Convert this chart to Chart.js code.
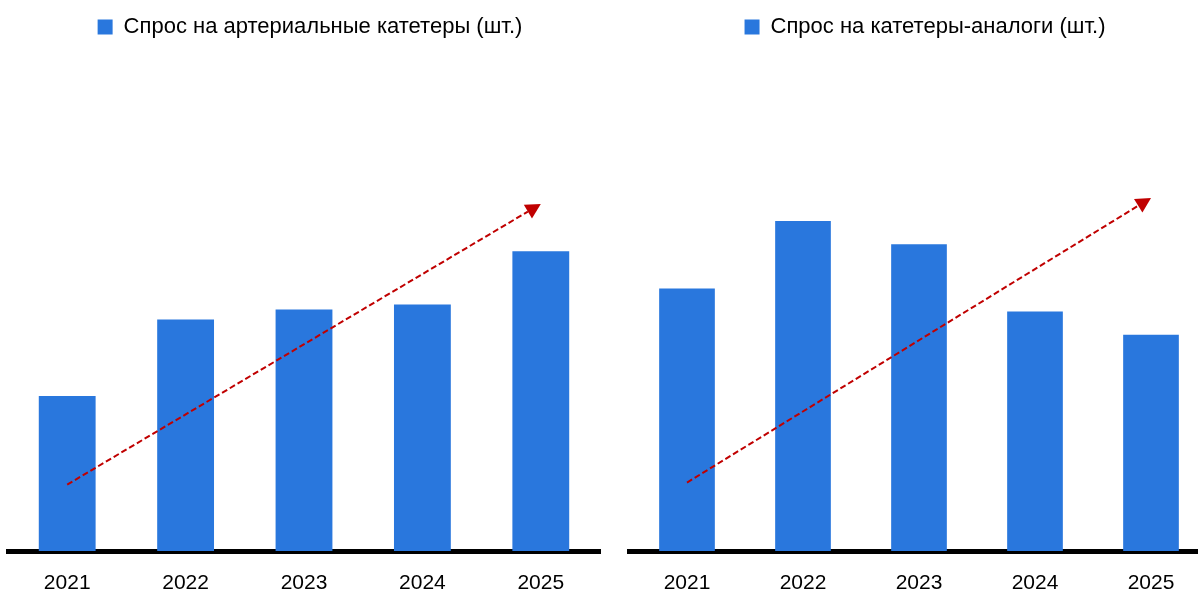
<!DOCTYPE html>
<html>
<head>
<meta charset="utf-8">
<script src="https://cdn.jsdelivr.net/npm/chart.js@4"></script>
<style>
  html, body { margin: 0; padding: 0; background: #fff; overflow: hidden; width: 1198px; height: 593px; }
  .box { position: absolute; top: 0; height: 593px; }
  #left-box { left: 0; width: 604px; }
  #right-box { left: 627px; width: 584px; }
</style>
</head>
<body>
<div class="box" id="left-box"><canvas id="leftChart"></canvas></div>
<div class="box" id="right-box"><canvas id="rightChart"></canvas></div>
<script>
// Categories
const years = ["2021", "2022", "2023", "2024", "2025"];

// Series values (relative units)
const arterialDemand = [154, 230, 240, 245, 298];
const analogDemand = [261, 328, 305, 238, 215];

// Legend labels
const arterialLabel = "Спрос на артериальные катетеры (шт.)";
const analogLabel = "Спрос на катетеры-аналоги (шт.)";

// Trend arrows: [category index, value] for start and tip
const arterialTrend = [[0, 66], [4, 345]];
const analogTrend = [[0, 68], [4, 351]];

const yMax = 500;
const fontFamily = "'Liberation Sans', Arial, sans-serif";
const barColor = "#2977DD";
const arrowColor = "#C00000";

Chart.defaults.animation = false;
Chart.defaults.font.family = fontFamily;
Chart.defaults.color = "#000";

// Plugin to draw the dashed red trend arrow
const trendArrow = {
    id: "trendArrow",
    afterDatasetsDraw(chart, args, opts) {
        const ctx = chart.ctx;
        const xs = chart.scales.x;
        const ys = chart.scales.y;
        const x1 = xs.getPixelForValue(opts.points[0][0]);
        const y1 = ys.getPixelForValue(opts.points[0][1]);
        const x2 = xs.getPixelForValue(opts.points[1][0]);
        const y2 = ys.getPixelForValue(opts.points[1][1]);
        const angle = Math.atan2(y2 - y1, x2 - x1);
        const headLen = 15;
        const headHalf = 8;

        ctx.save();
        ctx.strokeStyle = arrowColor;
        ctx.fillStyle = arrowColor;
        ctx.lineWidth = 2;
        ctx.setLineDash([6, 3]);
        ctx.beginPath();
        ctx.moveTo(x1, y1);
        ctx.lineTo(x2 - Math.cos(angle) * headLen, y2 - Math.sin(angle) * headLen);
        ctx.stroke();

        // Arrow head
        ctx.setLineDash([]);
        const bx = x2 - Math.cos(angle) * headLen;
        const by = y2 - Math.sin(angle) * headLen;
        ctx.beginPath();
        ctx.moveTo(x2, y2);
        ctx.lineTo(bx + Math.sin(angle) * headHalf, by - Math.cos(angle) * headHalf);
        ctx.lineTo(bx - Math.sin(angle) * headHalf, by + Math.cos(angle) * headHalf);
        ctx.closePath();
        ctx.fill();
        ctx.restore();
    }
};

// Nudge the legend a little to the right, like in the original
const legendShift = {
    id: "legendShift",
    afterLayout(chart) {
        chart.legend.left += 6;
        chart.legend.right += 6;
    }
};

function makeChart(canvasId, label, values, trend, padLeft, padRight) {
    const ctx = document.querySelector(canvasId).getContext("2d");
    return new Chart(ctx, {
        type: "bar",
        data: {
            labels: years,
            datasets: [{
                label: label,
                data: values,
                backgroundColor: barColor,
                borderWidth: 0,
                barPercentage: 0.48,
                categoryPercentage: 1
            }]
        },
        options: {
            responsive: true,
            maintainAspectRatio: false,
            layout: { padding: { top: 16, bottom: 0, left: padLeft, right: padRight } },
            plugins: {
                legend: {
                    display: true,
                    position: "top",
                    labels: {
                        boxWidth: 15,
                        boxHeight: 15,
                        padding: 0,
                        color: "#000",
                        font: { size: 22 }
                    }
                },
                tooltip: { enabled: false },
                trendArrow: { points: trend }
            },
            scales: {
                x: {
                    grid: { display: false, drawTicks: false },
                    border: { display: true, color: "#000", width: 5 },
                    ticks: { color: "#000", padding: 20, font: { size: 21 } },
                    afterFit(scale) {
                        // leave the axis strip at the bottom a fixed height
                        scale.height = 42;
                    }
                },
                y: {
                    display: false,
                    min: 0,
                    max: yMax
                }
            }
        },
        plugins: [trendArrow, legendShift]
    });
}

makeChart("#leftChart", arterialLabel, arterialDemand, arterialTrend, 8, 4);
makeChart("#rightChart", analogLabel, analogDemand, analogTrend, 2, 2);
</script>
</body>
</html>
